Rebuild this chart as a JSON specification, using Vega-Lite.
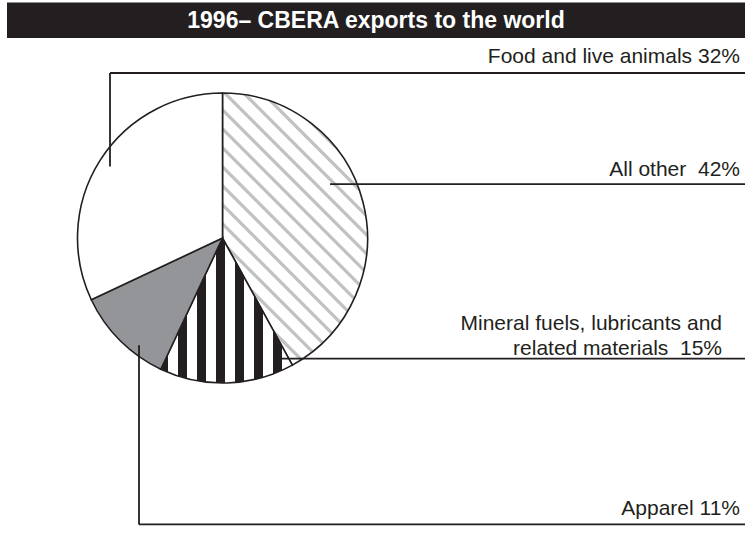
{
  "$schema": "https://vega.github.io/schema/vega-lite/v6.json",
  "width": 745,
  "height": 553,
  "autosize": "none",
  "padding": 0,
  "background": "white",
  "config": {"view": {"stroke": null}, "font": "Liberation Sans"},
  "datasets": {
    "slices": [
      {"category": "All other", "share": 42, "idx": 1},
      {"category": "Mineral fuels, lubricants and related materials", "share": 15, "idx": 2},
      {"category": "Apparel", "share": 11, "idx": 3},
      {"category": "Food and live animals", "share": 32, "idx": 4}
    ],
    "titlebar": [{"x": 7, "x2": 745, "y": 3, "y2": 48, "cx": 376, "cy": 26, "text": "1996– CBERA exports to the world"}],
    "leaders": [
      {"x": 110, "y": 210, "x2": 110, "y2": 92},
      {"x": 110, "y": 92, "x2": 745, "y2": 92},
      {"x": 330, "y": 232, "x2": 745, "y2": 232},
      {"x": 282, "y": 452, "x2": 745, "y2": 452},
      {"x": 139, "y": 435, "x2": 139, "y2": 661},
      {"x": 139, "y": 661, "x2": 745, "y2": 661}
    ],
    "labels": [
      {"text": "Food and live animals 32%", "x": 740, "y": 80},
      {"text": "All other\u00a0 42%", "x": 740, "y": 222},
      {"text": "Mineral fuels, lubricants and", "x": 722, "y": 416},
      {"text": "related materials\u00a0 15%", "x": 722, "y": 447},
      {"text": "Apparel 11%", "x": 740, "y": 649}
    ]
  },
  "layer": [
    {
      "data": {"name": "titlebar"},
      "mark": {"type": "rect", "color": "#231f20"},
      "encoding": {
        "x": {"field": "x", "type": "quantitative", "scale": {"domain": [0, 745], "nice": false, "zero": false}, "axis": null},
        "x2": {"field": "x2"},
        "y": {"field": "y", "type": "quantitative", "scale": {"domain": [0, 697], "nice": false, "zero": false, "reverse": true}, "axis": null},
        "y2": {"field": "y2"}
      }
    },
    {
      "data": {"name": "titlebar"},
      "mark": {"type": "text", "color": "white", "fontSize": 23, "fontWeight": "bold", "align": "center", "baseline": "middle"},
      "encoding": {
        "x": {"field": "cx", "type": "quantitative"},
        "y": {"field": "cy", "type": "quantitative"},
        "text": {"field": "text"}
      }
    },
    {
      "data": {"name": "slices"},
      "mark": {"type": "arc", "radius": 145, "stroke": "#231f20", "strokeWidth": 1.6},
      "encoding": {
        "theta": {"field": "share", "type": "quantitative", "stack": true},
        "order": {"field": "idx", "type": "quantitative"},
        "x": {"datum": 222.5, "type": "quantitative"},
        "y": {"datum": 300, "type": "quantitative"},
        "fill": {
          "condition": [
            {"test": "datum.idx === 1", "value": {"gradient": "linear", "x1": 0, "y1": 1, "x2": 0.6362, "y2": -0.1939, "stops": [
              {"offset": 0, "color": "white"},
              {"offset": 0.0130, "color": "white"}, {"offset": 0.0160, "color": "#c2c2c2"}, {"offset": 0.0240, "color": "#c2c2c2"}, {"offset": 0.0270, "color": "white"},
              {"offset": 0.05855, "color": "white"}, {"offset": 0.06155, "color": "#c2c2c2"}, {"offset": 0.06955, "color": "#c2c2c2"}, {"offset": 0.07255, "color": "white"},
              {"offset": 0.10410, "color": "white"}, {"offset": 0.10710, "color": "#c2c2c2"}, {"offset": 0.11510, "color": "#c2c2c2"}, {"offset": 0.11810, "color": "white"},
              {"offset": 0.14965, "color": "white"}, {"offset": 0.15265, "color": "#c2c2c2"}, {"offset": 0.16065, "color": "#c2c2c2"}, {"offset": 0.16365, "color": "white"},
              {"offset": 0.19520, "color": "white"}, {"offset": 0.19820, "color": "#c2c2c2"}, {"offset": 0.20620, "color": "#c2c2c2"}, {"offset": 0.20920, "color": "white"},
              {"offset": 0.24075, "color": "white"}, {"offset": 0.24375, "color": "#c2c2c2"}, {"offset": 0.25175, "color": "#c2c2c2"}, {"offset": 0.25475, "color": "white"},
              {"offset": 0.28630, "color": "white"}, {"offset": 0.28930, "color": "#c2c2c2"}, {"offset": 0.29730, "color": "#c2c2c2"}, {"offset": 0.30030, "color": "white"},
              {"offset": 0.33185, "color": "white"}, {"offset": 0.33485, "color": "#c2c2c2"}, {"offset": 0.34285, "color": "#c2c2c2"}, {"offset": 0.34585, "color": "white"},
              {"offset": 0.37740, "color": "white"}, {"offset": 0.38040, "color": "#c2c2c2"}, {"offset": 0.38840, "color": "#c2c2c2"}, {"offset": 0.39140, "color": "white"},
              {"offset": 0.42295, "color": "white"}, {"offset": 0.42595, "color": "#c2c2c2"}, {"offset": 0.43395, "color": "#c2c2c2"}, {"offset": 0.43695, "color": "white"},
              {"offset": 0.46850, "color": "white"}, {"offset": 0.47150, "color": "#c2c2c2"}, {"offset": 0.47950, "color": "#c2c2c2"}, {"offset": 0.48250, "color": "white"},
              {"offset": 0.51405, "color": "white"}, {"offset": 0.51705, "color": "#c2c2c2"}, {"offset": 0.52505, "color": "#c2c2c2"}, {"offset": 0.52805, "color": "white"},
              {"offset": 0.55960, "color": "white"}, {"offset": 0.56260, "color": "#c2c2c2"}, {"offset": 0.57060, "color": "#c2c2c2"}, {"offset": 0.57360, "color": "white"},
              {"offset": 0.60515, "color": "white"}, {"offset": 0.60815, "color": "#c2c2c2"}, {"offset": 0.61615, "color": "#c2c2c2"}, {"offset": 0.61915, "color": "white"},
              {"offset": 0.65070, "color": "white"}, {"offset": 0.65370, "color": "#c2c2c2"}, {"offset": 0.66170, "color": "#c2c2c2"}, {"offset": 0.66470, "color": "white"},
              {"offset": 0.69625, "color": "white"}, {"offset": 0.69925, "color": "#c2c2c2"}, {"offset": 0.70725, "color": "#c2c2c2"}, {"offset": 0.71025, "color": "white"},
              {"offset": 0.74180, "color": "white"}, {"offset": 0.74480, "color": "#c2c2c2"}, {"offset": 0.75280, "color": "#c2c2c2"}, {"offset": 0.75580, "color": "white"},
              {"offset": 0.78735, "color": "white"}, {"offset": 0.79035, "color": "#c2c2c2"}, {"offset": 0.79835, "color": "#c2c2c2"}, {"offset": 0.80135, "color": "white"},
              {"offset": 0.83290, "color": "white"}, {"offset": 0.83590, "color": "#c2c2c2"}, {"offset": 0.84390, "color": "#c2c2c2"}, {"offset": 0.84690, "color": "white"},
              {"offset": 0.87845, "color": "white"}, {"offset": 0.88145, "color": "#c2c2c2"}, {"offset": 0.88945, "color": "#c2c2c2"}, {"offset": 0.89245, "color": "white"},
              {"offset": 0.92400, "color": "white"}, {"offset": 0.92700, "color": "#c2c2c2"}, {"offset": 0.93500, "color": "#c2c2c2"}, {"offset": 0.93800, "color": "white"},
              {"offset": 0.96955, "color": "white"}, {"offset": 0.97255, "color": "#c2c2c2"}, {"offset": 0.98055, "color": "#c2c2c2"}, {"offset": 0.98355, "color": "white"},
              {"offset": 1, "color": "white"}
            ]}},
            {"test": "datum.idx === 2", "value": {"gradient": "linear", "x1": 0, "y1": 0, "x2": 1, "y2": 0, "stops": [
              {"offset": 0, "color": "#231f20"}, {"offset": 0.0547, "color": "#231f20"},
              {"offset": 0.0547, "color": "white"}, {"offset": 0.1345, "color": "white"}, {"offset": 0.1345, "color": "#231f20"}, {"offset": 0.1991, "color": "#231f20"},
              {"offset": 0.1991, "color": "white"}, {"offset": 0.2789, "color": "white"}, {"offset": 0.2789, "color": "#231f20"}, {"offset": 0.3435, "color": "#231f20"},
              {"offset": 0.3435, "color": "white"}, {"offset": 0.4233, "color": "white"}, {"offset": 0.4233, "color": "#231f20"}, {"offset": 0.4878, "color": "#231f20"},
              {"offset": 0.4878, "color": "white"}, {"offset": 0.5676, "color": "white"}, {"offset": 0.5676, "color": "#231f20"}, {"offset": 0.6322, "color": "#231f20"},
              {"offset": 0.6322, "color": "white"}, {"offset": 0.7120, "color": "white"}, {"offset": 0.7120, "color": "#231f20"}, {"offset": 0.7766, "color": "#231f20"},
              {"offset": 0.7766, "color": "white"}, {"offset": 0.8564, "color": "white"}, {"offset": 0.8564, "color": "#231f20"}, {"offset": 0.9210, "color": "#231f20"},
              {"offset": 0.9210, "color": "white"}, {"offset": 1, "color": "white"}
            ]}},
            {"test": "datum.idx === 3", "value": "#939598"}
          ],
          "value": "white"
        }
      }
    },
    {
      "data": {"name": "leaders"},
      "mark": {"type": "rule", "color": "#231f20", "strokeWidth": 1.8},
      "encoding": {
        "x": {"field": "x", "type": "quantitative"},
        "y": {"field": "y", "type": "quantitative"},
        "x2": {"field": "x2"},
        "y2": {"field": "y2"}
      }
    },
    {
      "data": {"name": "labels"},
      "mark": {"type": "text", "color": "#231f20", "fontSize": 21, "align": "right", "baseline": "alphabetic"},
      "encoding": {
        "x": {"field": "x", "type": "quantitative"},
        "y": {"field": "y", "type": "quantitative"},
        "text": {"field": "text"}
      }
    }
  ]
}
